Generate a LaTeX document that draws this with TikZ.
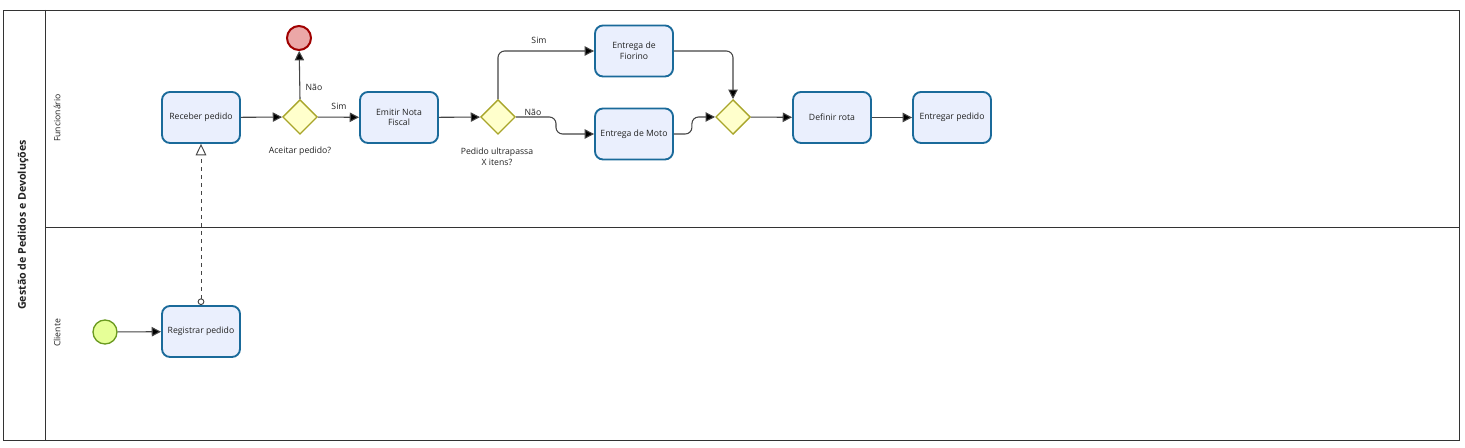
\documentclass[tikz,border=0pt]{standalone}
\usepackage{fontspec}
\setmainfont{Open Sans}
\usetikzlibrary{arrows.meta,shapes.geometric,calc}
\definecolor{taskfill}{HTML}{EAEFFD}
\definecolor{taskdraw}{HTML}{1A6A9A}
\definecolor{gwfill}{HTML}{FFFFCC}
\definecolor{gwdraw}{HTML}{A8A52A}
\definecolor{endfill}{HTML}{EBA7A7}
\definecolor{enddraw}{HTML}{A00000}
\definecolor{startfill}{HTML}{E6FF97}
\definecolor{startdraw}{HTML}{6A9A1F}
\definecolor{linec}{HTML}{444444}
\definecolor{txt}{HTML}{222222}
\tikzset{
  task/.style={draw=taskdraw, fill=taskfill, line width=1.4pt, rounded corners=6pt,
    minimum width=58.5pt, minimum height=38.25pt, align=center, inner sep=1pt,
    font=\fontsize{6.5}{8}\selectfont, text=txt},
  gateway/.style={draw=gwdraw, fill=gwfill, line width=1pt, diamond, aspect=1,
    minimum size=26pt, inner sep=0pt},
  endev/.style={draw=enddraw, fill=endfill, line width=1.5pt, circle, minimum size=18pt, inner sep=0pt},
  startev/.style={draw=startdraw, fill=startfill, line width=1pt, circle, minimum size=18pt, inner sep=0pt},
  flow/.style={draw=linec, line width=0.8pt, -{Triangle[length=7pt,width=7pt,fill=black]}, rounded corners=5pt},
  msgflow/.style={draw=linec, line width=0.7pt, dashed, {Circle[open,length=5pt,width=5pt,fill=white]}-{Triangle[open,length=8.5pt,width=8pt,fill=white]}},
  lbl/.style={font=\fontsize{6.5}{8}\selectfont, text=txt, align=center, inner sep=0pt},
  lanelbl/.style={font=\fontsize{6.5}{8}\selectfont, text=txt, rotate=90, inner sep=0pt},
  pool/.style={draw=black!80, line width=0.6pt}
}
\begin{document}
\begin{tikzpicture}[x=0.75pt,y=-0.75pt]
\useasboundingbox (0,0) rectangle (1465,448);
\fill[white] (0,0) rectangle (1465,448);
% pool and lanes
\draw[pool] (3,10) rectangle (1459,440);
\draw[pool] (45,10) -- (45,440);
\draw[pool] (45,227) -- (1459,227);
\node[lanelbl, font=\fontsize{8}{10}\selectfont\bfseries] (title) at (23,225) {Gestão de Pedidos e Devoluções};
\node[lanelbl] (lane1) at (57,118) {Funcionário};
\node[lanelbl] (lane2) at (57,333) {Cliente};
% nodes
\node[task] (receber) at (201,117.5) {Receber pedido};
\node[gateway] (g1) at (300,117) {};
\node[endev] (fim) at (299,38) {};
\node[task] (emitir) at (399,117.5) {Emitir Nota\\Fiscal};
\node[gateway] (g2) at (498,117) {};
\node[task] (fiorino) at (634,51) {Entrega de\\Fiorino};
\node[task] (moto) at (634,134) {Entrega de Moto};
\node[gateway] (g3) at (733,117) {};
\node[task] (rota) at (832,117.5) {Definir rota};
\node[task] (entregar) at (952,117.5) {Entregar pedido};
\node[startev] (inicio) at (105,332) {};
\node[task] (registrar) at (201,331.5) {Registrar pedido};
% labels
\node[lbl] (l1) at (314,87) {Não};
\node[lbl] (l2) at (339,106) {Sim};
\node[lbl] (l3) at (300,151) {Aceitar pedido?};
\node[lbl] (l4) at (539,40) {Sim};
\node[lbl] (l5) at (533,112) {Não};
\node[lbl] (l6) at (497,157) {Pedido ultrapassa\\X itens?};
% flows
\draw[flow] (inicio) -- (registrar);
\draw[msgflow] (registrar.north) -- (receber.south);
\draw[flow] (receber) -- (g1);
\draw[flow] (g1.north) -- (fim);
\draw[flow] (g1) -- (emitir);
\draw[flow] (emitir) -- (g2);
\draw[flow] (g2.north) |- (fiorino.west);
\draw[flow] (g2.east) -- ++(40,0) |- (moto.west);
\draw[flow] (fiorino.east) -| (g3.north);
\draw[flow] (moto.east) -- ++(18,0) |- (g3.west);
\draw[flow] (g3) -- (rota);
\draw[flow] (rota) -- (entregar);
\end{tikzpicture}
\end{document}
